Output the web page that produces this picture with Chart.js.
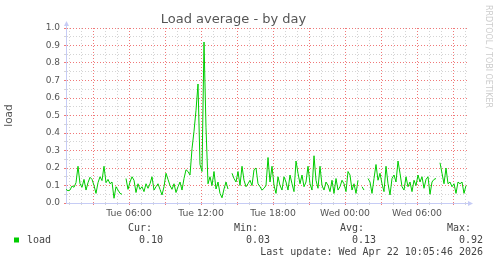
<!DOCTYPE html>
<html>
<head>
<meta charset="utf-8">
<script src="https://cdn.jsdelivr.net/npm/chart.js@4.4.1/dist/chart.umd.min.js"></script>
<style>
  html, body { margin: 0; padding: 0; background: #ffffff; }
  #wrap { width: 497px; height: 264px; }
</style>
</head>
<body>
<div id="wrap"><canvas id="load-chart" width="497" height="264"></canvas></div>
<script>
// samples: minutes since Tue 00:00, one every 10 minutes
var startMinute = 45;
var stepMinutes = 10;
var endMinute = 2050;

var loadValues = [
  0.078, 0.07, 0.074, 0.097, 0.09, 0.116, 0.21, 0.11, 0.09, 0.135,
  0.074, 0.116, 0.147, 0.135, 0.10, 0.055, 0.116, 0.15, 0.128, 0.21,
  0.116, 0.135, 0.11, 0.12, 0.027, 0.093, 0.074, 0.055, 0.05, null,
  0.14, 0.078, 0.12, 0.15, 0.13, 0.06, 0.11, 0.078, 0.093, 0.065,
  0.11, 0.084, 0.11, 0.15, 0.074, 0.093, 0.11, 0.078, 0.046, 0.093,
  0.17, 0.135, 0.10, 0.078, 0.11, 0.06, 0.093, 0.12, 0.074, 0.14,
  0.19, 0.18, 0.16, 0.31, 0.41, 0.53, 0.68, 0.22, 0.18, 0.92,
  0.43, 0.11, 0.15, 0.10, 0.18, 0.08, 0.12, 0.055, 0.03, 0.08,
  0.12, 0.08, null, 0.17, 0.14, 0.12, 0.18, 0.10, 0.21, 0.13,
  0.093, 0.11, 0.13, 0.10, 0.19, 0.20, 0.11, 0.093, 0.074, 0.084,
  0.10, 0.26, 0.12, 0.21, 0.10, 0.055, 0.15, 0.10, 0.074, 0.15,
  0.12, 0.074, 0.16, 0.11, 0.065, 0.24, 0.17, 0.11, 0.16, 0.093,
  0.12, 0.21, 0.11, 0.074, 0.27, 0.13, 0.084, 0.21, 0.10, 0.074,
  0.12, 0.10, 0.065, 0.13, 0.055, 0.14, 0.074, 0.093, 0.13, 0.11,
  0.065, 0.18, 0.16, 0.074, 0.11, 0.055, 0.13, null, 0.093, 0.074,
  null, 0.14, 0.12, 0.055, 0.14, 0.22, 0.13, 0.17, 0.11, 0.065,
  0.21, 0.11, 0.046, 0.14, 0.16, 0.12, 0.24, 0.17, 0.093, 0.074,
  0.15, 0.093, 0.12, 0.065, 0.13, 0.10, 0.16, 0.12, 0.15, 0.084,
  0.135, 0.15, 0.05, 0.12, 0.135, 0.14, null, 0.23, 0.17, 0.11,
  0.20, 0.11, 0.12, 0.093, 0.11, 0.055, 0.12, 0.11, 0.12, 0.055,
  0.10
];

var xTickMinutes = [360, 720, 1080, 1440, 1800];
var xTickLabels = ["Tue 06:00", "Tue 12:00", "Tue 18:00", "Wed 00:00", "Wed 06:00"];
var yTickLabels = ["0.0", "0.1", "0.2", "0.3", "0.4", "0.5", "0.6", "0.7", "0.8", "0.9", "1.0"];

var legendHeads = ["Cur:", "Min:", "Avg:", "Max:"];
var legendValues = ["0.10", "0.03", "0.13", "0.92"];
var seriesName = "load";
var lastUpdate = "Last update: Wed Apr 22 10:05:46 2026";

var lineColor = "#00cc00";
var axisColor = "#c6ccf5";
var majorGrid = "#f07878";
var minorGrid = "#d4d4d4";
var textColor = "#555555";

var points = loadValues.map(function(v, i) {
  return { x: startMinute + i * stepMinutes, y: v };
});

var hourTicks = [];
for (var m = 60; m < endMinute; m += 60) hourTicks.push({ value: m });

var muninExtras = {
  id: 'muninExtras',
  afterDraw: function(chart) {
    var ctx = chart.ctx;
    var a = chart.chartArea;
    var ax = Math.round(a.left) + 0.5;
    var ay = Math.round(a.bottom) + 0.5;
    ctx.save();

    // axis extensions and arrow heads
    ctx.strokeStyle = axisColor;
    ctx.fillStyle = axisColor;
    ctx.lineWidth = 1;
    ctx.beginPath();
    ctx.moveTo(ax, a.top);
    ctx.lineTo(ax, a.top - 3);
    ctx.moveTo(a.right, ay);
    ctx.lineTo(a.right + 2, ay);
    ctx.stroke();
    ctx.beginPath();
    ctx.moveTo(ax - 2.5, a.top - 2);
    ctx.lineTo(ax + 2.5, a.top - 2);
    ctx.lineTo(ax, a.top - 7);
    ctx.closePath();
    ctx.fill();
    ctx.beginPath();
    ctx.moveTo(a.right + 1, ay - 2.5);
    ctx.lineTo(a.right + 1, ay + 2.5);
    ctx.lineTo(a.right + 6, ay);
    ctx.closePath();
    ctx.fill();

    // legend block
    ctx.font = '10px "DejaVu Sans Mono"';
    ctx.fillStyle = "#444444";
    ctx.textBaseline = 'alphabetic';
    ctx.textAlign = 'left';
    var headX = [128, 234, 340, 447];
    var valX = [139, 246, 352, 459];
    legendHeads.forEach(function(t, i) { ctx.fillText(t, headX[i], 231); });
    legendValues.forEach(function(t, i) { ctx.fillText(t, valX[i], 243); });
    ctx.fillText(seriesName, 27, 243);
    ctx.textAlign = 'right';
    ctx.fillText(lastUpdate, 483, 255);
    ctx.fillStyle = lineColor;
    ctx.fillRect(14, 237.5, 5, 5);

    // watermark
    ctx.font = '8px "DejaVu Sans"';
    ctx.fillStyle = "#cccccc";
    ctx.textAlign = 'left';
    ctx.textBaseline = 'middle';
    ctx.translate(488, 5);
    ctx.rotate(Math.PI / 2);
    ctx.fillText("RRDTOOL / TOBI OETIKER", 0, 0);
    ctx.restore();
  }
};

Chart.defaults.font.family = '"DejaVu Sans", sans-serif';

var ctx = document.getElementById("load-chart");
new Chart(ctx, {
  type: 'line',
  data: {
    datasets: [{
      label: seriesName,
      data: points,
      borderColor: lineColor,
      borderWidth: 1,
      pointRadius: 0,
      tension: 0,
      fill: false,
      spanGaps: false
    }]
  },
  options: {
    responsive: false,
    animation: false,
    layout: { padding: { left: 0, right: 30, top: 0, bottom: 41 } },
    plugins: {
      legend: { display: false },
      tooltip: { enabled: false },
      title: {
        display: true,
        text: 'Load average - by day',
        color: textColor,
        font: { size: 13, weight: 'normal' },
        padding: { top: 12, bottom: 0.4 }
      }
    },
    scales: {
      x: {
        type: 'linear',
        min: startMinute,
        max: endMinute,
        afterBuildTicks: function(s) { s.ticks = hourTicks.slice(); },
        afterFit: function(s) { s.height = 20; },
        grid: {
          color: function(c) { return c.tick && c.tick.value % 180 === 0 ? majorGrid : minorGrid; },
          tickLength: 2
        },
        border: { color: axisColor, dash: [1, 2] },
        ticks: {
          autoSkip: false,
          maxRotation: 0,
          padding: 3,
          color: textColor,
          font: { size: 9.3 },
          callback: function(v) {
            var i = xTickMinutes.indexOf(v);
            return i >= 0 ? xTickLabels[i] : '';
          }
        }
      },
      y: {
        min: 0,
        max: 1,
        afterFit: function(s) { s.width = 66; },
        grid: {
          color: function(c) { return c.index % 2 === 0 ? majorGrid : minorGrid; },
          tickLength: 2
        },
        border: { color: axisColor, dash: [1, 2] },
        title: {
          display: true,
          text: 'load',
          color: textColor,
          font: { size: 10.5 },
          padding: { top: 3.4, bottom: 0 }
        },
        ticks: {
          stepSize: 0.05,
          autoSkip: false,
          padding: 4,
          color: textColor,
          font: { size: 9 },
          callback: function(v, i) { return i % 2 === 0 ? yTickLabels[i / 2] : ''; }
        }
      }
    }
  },
  plugins: [muninExtras]
});
</script>
</body>
</html>
